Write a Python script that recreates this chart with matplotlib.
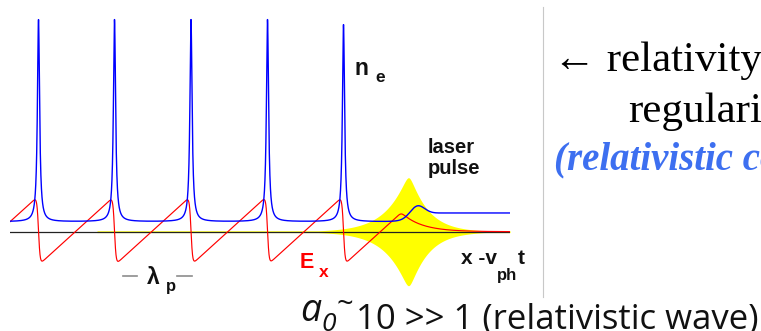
import numpy as np
import matplotlib
matplotlib.use("Agg")
import matplotlib.pyplot as plt
from matplotlib.lines import Line2D

W, H, DPI = 761, 331, 100

# ---------------- data (arbitrary units along the wake, xi) ----------------
xi_range = [0.0, 500.0]
spike_pos = [28.5, 104.5, 181.0, 257.5, 333.5]      # density spikes n_e
spike_height = [20.2, 20.2, 20.2, 20.2, 19.7]        # above inter-spike density
spike_width = 1.3
n_between = 1.0          # density between spikes
n_ahead = 1.87           # unperturbed density ahead of pulse
n_step_pos = 402.0
n_bump_pos, n_bump_amp, n_bump_w = 407.0, 0.96, 10.0

E_start = 1.0            # field E_x at left edge
E_slope = 0.091          # linear rise between spikes
E_drop_width = 1.6
E_lead_peak, E_lead_pos, E_lead_decay = 1.85, 392.0, 20.0

pulse_pos, pulse_amp = 398.5, 5.4                     # laser envelope
pulse_len_left, pulse_len_right = 21.4, 18.2
pulse_start, pulse_floor = 87.0, 0.09

# ---------------- curves ----------------
xi = np.linspace(xi_range[0], xi_range[1], 8001)
period = np.mean(np.diff(spike_pos))

n_e = np.full_like(xi, n_between)
for p, a in zip(spike_pos, spike_height):
    n_e += a / (1.0 + ((xi - p) / spike_width) ** 2)
n_e += (n_ahead - n_between) / (1.0 + np.exp(-(xi - n_step_pos) / 6.0))
n_e += n_bump_amp * np.exp(-((xi - n_bump_pos) / n_bump_w) ** 2)

drop = E_slope * period
E_saw = E_start + E_slope * xi
for p in spike_pos:
    E_saw -= drop * (0.5 + 0.5 * np.tanh((xi - p) / E_drop_width))
E_lead = E_lead_peak * np.exp(-(xi - E_lead_pos) / E_lead_decay)
k = 5.0
E_x = -np.logaddexp(-k * E_saw, -k * E_lead) / k

d = xi - pulse_pos
L = np.where(d < 0, pulse_len_left, pulse_len_right)
r = 3.0
env = pulse_amp * np.exp(-(np.sqrt(d ** 2 + r ** 2) - r) / L)
env = np.maximum(env, pulse_floor)
mask = xi >= pulse_start

# ---------------- figure ----------------
fig = plt.figure(figsize=(W / DPI, H / DPI), dpi=DPI)
fig.patch.set_facecolor("white")
ax = fig.add_axes([10 / W, 0, 500 / W, 1])
ax.set_xlim(xi_range)
ax.set_ylim(-(H - 231.7) / 10.0, 231.7 / 10.0)
ax.axis("off")

ax.fill_between(xi[mask], -env[mask], env[mask], color="#ffff00", lw=0, zorder=1)
ax.axhline(0, color="#222222", lw=0.9, zorder=2)
ax.plot(xi, E_x, color="#ff0000", lw=0.85, zorder=3)
ax.plot(xi, n_e, color="#0000ff", lw=1.0, zorder=4)


def ptext(x, y, s, **kw):
    fig.text(x / W, 1 - y / H, s, va="baseline", ha="left", **kw)


sans = ["Liberation Sans", "DejaVu Sans"]
# n_e
ptext(355, 75, "n", fontsize=16.5, fontweight="bold", family=sans, color="#111111")
ptext(375, 82, "e", fontsize=12.5, fontweight="bold", family=sans, color="#111111")
# laser pulse
ptext(428, 153, "laser", fontsize=14.5, fontweight="bold", family=sans, color="#111111")
ptext(428, 174, "pulse", fontsize=14.5, fontweight="bold", family=sans, color="#111111")
# E_x
ptext(300, 268, "E", fontsize=15.5, fontweight="bold", family=sans, color="#ff0000")
ptext(319, 277, "x", fontsize=12.5, fontweight="bold", family=sans, color="#ff0000")
# x - v_ph t
ptext(461, 264, "x -v", fontsize=15, fontweight="bold", family=sans, color="#111111")
ptext(497, 280, "ph", fontsize=12, fontweight="bold", family=sans, color="#111111")
ptext(518, 264, "t", fontsize=15, fontweight="bold", family=sans, color="#111111")
# lambda_p with dashes
ptext(147, 284, "λ", fontsize=16.5, fontweight="bold", family=sans, color="#111111")
ptext(166, 291, "p", fontsize=12, fontweight="bold", family=sans, color="#111111")
for x0, x1 in [(123, 137), (177, 192)]:
    fig.add_artist(Line2D([x0 / W, x1 / W], [1 - 276 / H] * 2, color="#8c8c8c", lw=1.2))

# bottom text
bot = ["Open Sans", "DejaVu Sans"]
ptext(300, 321, "a", fontsize=27, style="italic", family=bot, color="#111111")
ptext(321, 331, "0", fontsize=19, style="italic", family=bot, color="#111111")
ptext(336, 313, "~", fontsize=21, family=bot, color="#111111")
ptext(356, 328, "10 >> 1 (relativistic wave)", fontsize=25, family=bot, color="#111111")

# separator
fig.add_artist(Line2D([543 / W] * 2, [1 - 7 / H, 1 - 297 / H], color="#c8c8c8", lw=0.8))

serif = ["Liberation Serif", "DejaVu Serif"]
ptext(553, 71, "← relativity", fontsize=31, family=serif, color="#000000")
ptext(628, 122, "regularizes", fontsize=31, family=serif, color="#000000")
ptext(554, 169, "(relativistic coherence)", fontsize=28, family=serif,
      style="italic", fontweight="bold", color="#3d6ff0")

fig.savefig("out.png", dpi=DPI)
